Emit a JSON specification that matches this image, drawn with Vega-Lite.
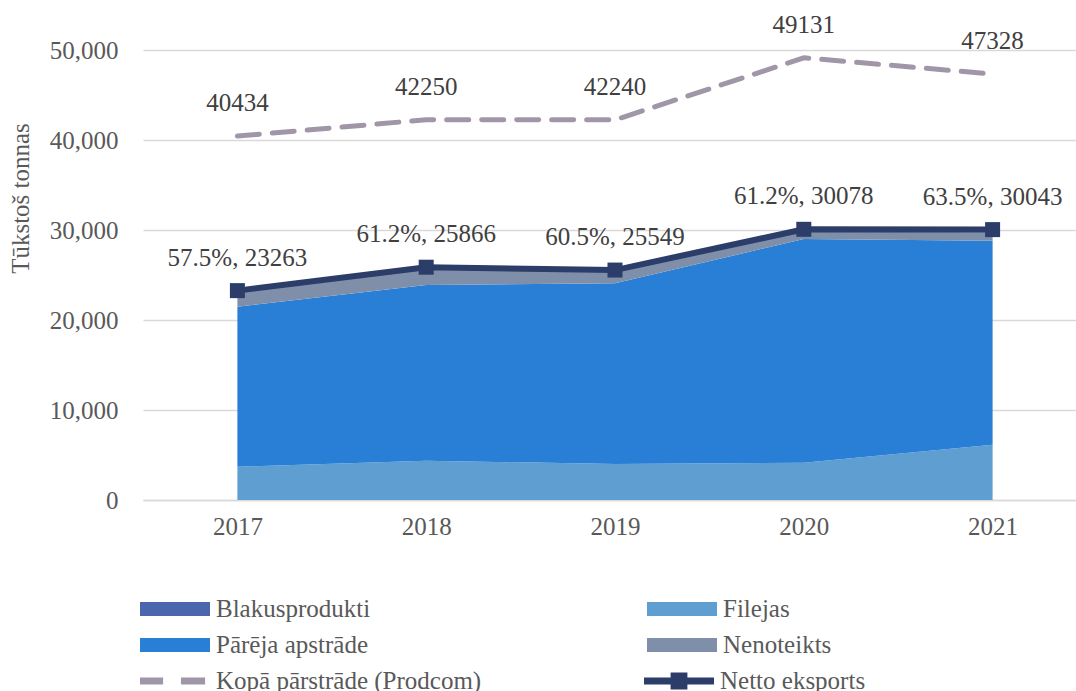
{
  "$schema": "https://vega.github.io/schema/vega-lite/v6.json",
  "width": 944,
  "height": 495,
  "autosize": "none",
  "padding": {"left": 143, "top": 5, "right": 0, "bottom": 191},
  "background": "white",
  "config": {
    "view": {"stroke": null},
    "font": "Liberation Serif",
    "axis": {"labelFont": "Liberation Serif", "labelFontSize": 25, "labelColor": "#595959", "titleFont": "Liberation Serif", "titleFontSize": 25, "titleColor": "#595959", "titleFontWeight": "normal"},
    "legend": {"labelFont": "Liberation Serif", "labelFontSize": 25, "labelColor": "#595959", "labelLimit": 500}
  },
  "datasets": {
    "areas": [
      {"year": "2017", "series": "Filejas", "value": 3700, "ord": 1},
      {"year": "2018", "series": "Filejas", "value": 4370, "ord": 1},
      {"year": "2019", "series": "Filejas", "value": 4000, "ord": 1},
      {"year": "2020", "series": "Filejas", "value": 4150, "ord": 1},
      {"year": "2021", "series": "Filejas", "value": 6150, "ord": 1},
      {"year": "2017", "series": "Pārēja apstrāde", "value": 17780, "ord": 2},
      {"year": "2018", "series": "Pārēja apstrāde", "value": 19520, "ord": 2},
      {"year": "2019", "series": "Pārēja apstrāde", "value": 20070, "ord": 2},
      {"year": "2020", "series": "Pārēja apstrāde", "value": 24850, "ord": 2},
      {"year": "2021", "series": "Pārēja apstrāde", "value": 22650, "ord": 2},
      {"year": "2017", "series": "Nenoteikts", "value": 1783, "ord": 3},
      {"year": "2018", "series": "Nenoteikts", "value": 1976, "ord": 3},
      {"year": "2019", "series": "Nenoteikts", "value": 1479, "ord": 3},
      {"year": "2020", "series": "Nenoteikts", "value": 1078, "ord": 3},
      {"year": "2021", "series": "Nenoteikts", "value": 900, "ord": 3},
      {"year": "2017", "series": "Blakusprodukti", "value": 0, "ord": 4},
      {"year": "2018", "series": "Blakusprodukti", "value": 0, "ord": 4},
      {"year": "2019", "series": "Blakusprodukti", "value": 0, "ord": 4},
      {"year": "2020", "series": "Blakusprodukti", "value": 0, "ord": 4},
      {"year": "2021", "series": "Blakusprodukti", "value": 343, "ord": 4}
    ],
    "prodcom": [
      {"year": "2017", "value": 40434, "label": "40434", "s1": "Kopā pārstrāde (Prodcom)"},
      {"year": "2018", "value": 42250, "label": "42250", "s1": "Kopā pārstrāde (Prodcom)"},
      {"year": "2019", "value": 42240, "label": "42240", "s1": "Kopā pārstrāde (Prodcom)"},
      {"year": "2020", "value": 49131, "label": "49131", "s1": "Kopā pārstrāde (Prodcom)"},
      {"year": "2021", "value": 47328, "label": "47328", "s1": "Kopā pārstrāde (Prodcom)"}
    ],
    "netto": [
      {"year": "2017", "value": 23263, "label": "57.5%, 23263", "s2": "Netto eksports"},
      {"year": "2018", "value": 25866, "label": "61.2%, 25866", "s2": "Netto eksports"},
      {"year": "2019", "value": 25549, "label": "60.5%, 25549", "s2": "Netto eksports"},
      {"year": "2020", "value": 30078, "label": "61.2%, 30078", "s2": "Netto eksports"},
      {"year": "2021", "value": 30043, "label": "63.5%, 30043", "s2": "Netto eksports"}
    ]
  },
  "encoding": {
    "x": {
      "field": "year", "type": "ordinal",
      "scale": {"type": "point", "padding": 0.5},
      "axis": {"title": null, "labelAngle": 0, "ticks": false, "grid": false, "domain": true, "domainColor": "#d9d9d9", "domainWidth": 1.5, "labelPadding": 14}
    },
    "y": {
      "field": "value", "type": "quantitative",
      "scale": {"domain": [0, 55000], "nice": false},
      "axis": {"title": "Tūkstoš tonnas", "values": [0, 10000, 20000, 30000, 40000, 50000], "format": ",d", "ticks": false, "domain": false, "grid": true, "gridColor": "#d9d9d9", "gridWidth": 1.5, "labelPadding": 25, "titleX": -123, "titleY": 193, "titleAngle": -90, "titleAlign": "center", "titleBaseline": "middle"}
    }
  },
  "layer": [
    {
      "data": {"name": "areas"},
      "mark": {"type": "area", "opacity": 1},
      "encoding": {
        "y": {"field": "value", "type": "quantitative", "stack": "zero"},
        "order": {"field": "ord", "type": "quantitative"},
        "color": {
          "field": "series", "type": "nominal",
          "scale": {
            "domain": ["Blakusprodukti", "Pārēja apstrāde", "Filejas", "Nenoteikts"],
            "range": ["#4a66ac", "#297fd6", "#5f9ed1", "#7f8fa9"]
          },
          "legend": {
            "title": null,
            "orient": "none",
            "legendX": -3,
            "legendY": 589,
            "columns": 2,
            "columnPadding": 276,
            "rowPadding": 6,
            "clipHeight": 30,
            "symbolSize": 4900,
            "symbolType": "M-1,-0.2H1V0.2H-1Z",
            "symbolOpacity": 1,
            "symbolStrokeWidth": 0,
            "labelOffset": 6
          }
        }
      }
    },
    {
      "data": {"name": "prodcom"},
      "mark": {"type": "line", "color": "#a096a8", "strokeWidth": 5, "strokeCap": "round"},
      "encoding": {
        "strokeDash": {
          "field": "s1", "type": "nominal",
          "scale": {"domain": ["Kopā pārstrāde (Prodcom)"], "range": [[22, 13]]},
          "legend": {
            "title": null,
            "orient": "none",
            "legendX": -3,
            "legendY": 661,
            "clipHeight": 30,
            "symbolSize": 4900,
            "symbolType": "M-1,-0.1H-0.34V0.1H-1Z M0.17,-0.1H0.86V0.1H0.17Z",
            "symbolFillColor": "#a096a8",
            "symbolStrokeWidth": 0,
            "symbolOpacity": 1,
            "labelOffset": 6
          }
        }
      }
    },
    {
      "data": {"name": "prodcom"},
      "mark": {"type": "text", "dy": -33, "fontSize": 25, "color": "#404040", "font": "Liberation Serif"},
      "encoding": {"text": {"field": "label"}}
    },
    {
      "data": {"name": "netto"},
      "mark": {"type": "line", "color": "#2b3d68", "strokeWidth": 6},
      "encoding": {}
    },
    {
      "data": {"name": "netto"},
      "mark": {"type": "point", "shape": "square", "size": 225, "filled": true, "color": "#2b3d68"},
      "encoding": {
        "opacity": {
          "field": "s2", "type": "nominal",
          "scale": {"domain": ["Netto eksports"], "range": [1]},
          "legend": {
            "title": null,
            "orient": "none",
            "legendX": 501,
            "legendY": 661,
            "clipHeight": 30,
            "symbolSize": 4900,
            "symbolType": "M-1,-0.1H-0.24V-0.24H0.24V-0.1H1V0.1H0.24V0.24H-0.24V0.1H-1Z",
            "symbolFillColor": "#2b3d68",
            "symbolStrokeWidth": 0,
            "labelOffset": 6
          }
        }
      }
    },
    {
      "data": {"name": "netto"},
      "mark": {"type": "text", "dy": -33, "fontSize": 25, "color": "#404040", "font": "Liberation Serif"},
      "encoding": {"text": {"field": "label"}}
    }
  ]
}
